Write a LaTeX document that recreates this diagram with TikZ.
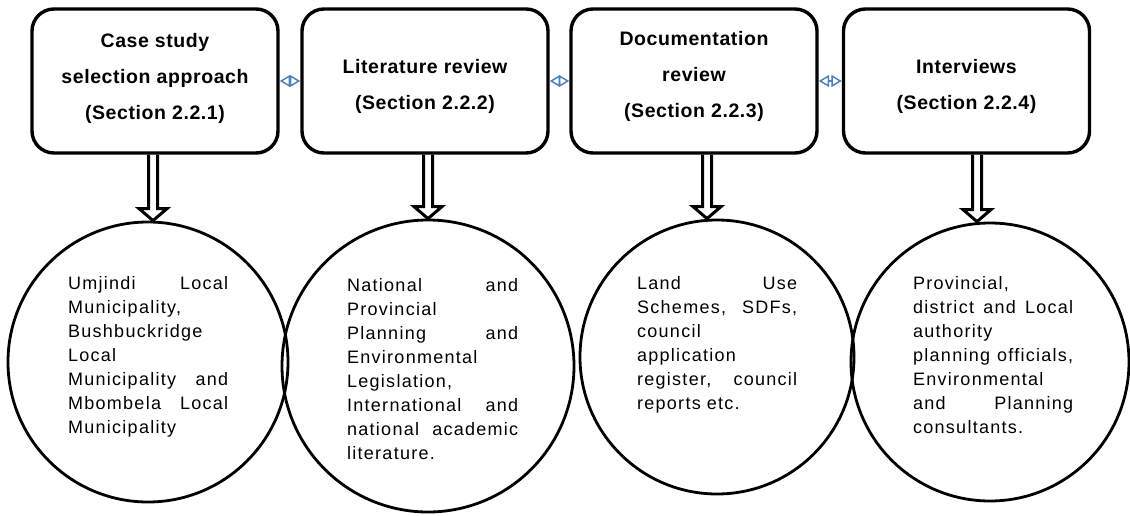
\documentclass[tikz,border=0pt]{standalone}
\usepackage{fontspec}
\usetikzlibrary{arrows.meta,calc}
\newfontfamily\bodyfont[LetterSpace=7]{Liberation Sans}
\newfontfamily\headfont[LetterSpace=3]{Liberation Sans}
\definecolor{linkblue}{HTML}{4F81BD}
% a justified line of given width; words are separated by \hfill
\newcommand\jline[2]{\leavevmode\hbox to #1{#2}}
\tikzset{
  stagebox/.style={draw, line width=3.4pt, rounded corners=22pt,
    minimum width=246pt, minimum height=144pt, inner sep=0pt},
  stagetext/.style={font=\headfont\bfseries\fontsize{19.5}{36}\selectfont,
    align=center, inner sep=0pt},
  scopecircle/.style={draw, circle, line width=2.8pt, inner sep=0pt},
  scopetext/.style={font=\bodyfont\fontsize{18}{24}\selectfont,
    align=left, anchor=north west, inner sep=0pt},
  link/.style={draw=linkblue, line width=1.5pt,
    {Triangle[open,length=10.5pt,width=12pt]}-{Triangle[open,length=10.5pt,width=12pt]}},
  flow/.style={draw, line width=3pt, line join=miter,
    to path={let \p1=(\tikztostart), \p2=(\tikztotarget) in
      (\x1-4.5pt,\y1) -- (\x1-4.5pt,\y2+12pt) -- (\x1-14pt,\y2+12pt)
      -- (\x1,\y2) -- (\x1+14pt,\y2+12pt) -- (\x1+4.5pt,\y2+12pt)
      -- (\x1+4.5pt,\y1)}}
}
\begin{document}
\begin{tikzpicture}[x=1pt,y=-1pt]
\useasboundingbox (0,0) rectangle (1130,516);

% method boxes
\node[stagebox] (b1) at (155,81) {};
\node[stagebox] (b2) at (425,81) {};
\node[stagebox] (b3) at (694,81) {};
\node[stagebox] (b4) at (966.5,81) {};

\node[stagetext] (s1) at (155,78.5) {Case study\\selection approach\\(Section 2.2.1)};
\node[stagetext] (s2) at (425,86) {Literature review\\(Section 2.2.2)};
\node[stagetext] (s3) at (694,76.5) {Documentation\\review\\(Section 2.2.3)};
\node[stagetext] (s4) at (966.5,86) {Interviews\\(Section 2.2.4)};

% links between the boxes
\draw[link] (b1.east) -- (b2.west);
\draw[link] (b2.east) -- (b3.west);
\draw[link] (b3.east) -- (b4.west);

% source circles
\node[scopecircle, minimum size=280pt] (c1) at (148,362) {};
\node[scopecircle, minimum size=292pt] (c2) at (428,366) {};
\node[scopecircle, minimum size=274pt] (c3) at (717,357) {};
\node[scopecircle, minimum size=278pt] (c4) at (990,362) {};

\node[scopetext, text width=160pt] (d1) at (68,276.5) {%
  \jline{160pt}{Umjindi\hfill Local}\\
  Municipality,\\
  Bushbuckridge\\
  Local\\
  \jline{160pt}{Municipality\hfill and}\\
  \jline{160pt}{Mbombela\hfill Local}\\
  Municipality};
\node[scopetext, text width=171pt] (d2) at (347,278) {%
  \jline{171pt}{National\hfill and}\\
  Provincial\\
  \jline{171pt}{Planning\hfill and}\\
  Environmental\\
  Legislation,\\
  \jline{171pt}{International\hfill and}\\
  \jline{171pt}{national\hfill academic}\\
  literature.};
\node[scopetext, text width=160pt] (d3) at (637,276.5) {%
  \jline{160pt}{Land\hfill Use}\\
  \jline{160pt}{Schemes,\hfill SDFs,}\\
  council\\
  application\\
  \jline{160pt}{register,\hfill council}\\
  reports etc.};
\node[scopetext, text width=160pt] (d4) at (913,276.5) {%
  Provincial,\\
  \jline{160pt}{district\hfill and\hfill Local}\\
  authority\\
  \jline{160pt}{planning\hfill officials,}\\
  Environmental\\
  \jline{160pt}{and\hfill Planning}\\
  consultants.};

% hollow arrows from boxes down to circles
\coordinate (a1) at (153,0);
\coordinate (a2) at (428,0);
\coordinate (a3) at (707,0);
\coordinate (a4) at (977,0);
\draw[flow] (b1.south -| a1) to (c1.north -| a1);
\draw[flow] (b2.south -| a2) to (c2.north -| a2);
\draw[flow] (b3.south -| a3) to (c3.north -| a3);
\draw[flow] (b4.south -| a4) to (c4.north -| a4);
\end{tikzpicture}
\end{document}
